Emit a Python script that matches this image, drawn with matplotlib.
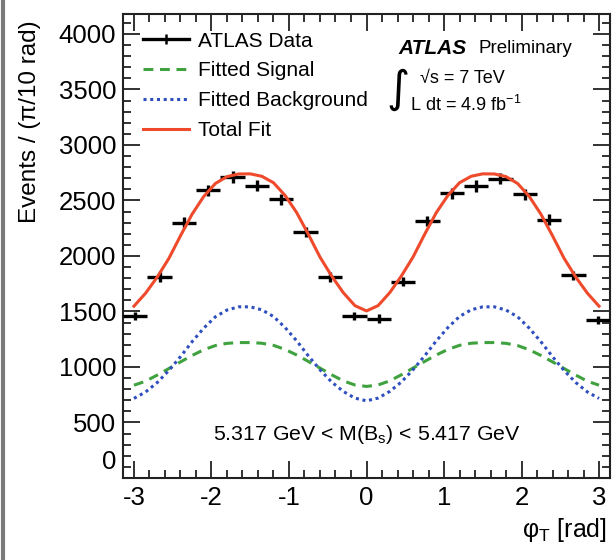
import numpy as np
import matplotlib
matplotlib.use("Agg")
import matplotlib.pyplot as plt
from matplotlib.lines import Line2D
from matplotlib.ticker import MultipleLocator

plt.rcParams['font.family'] = ['Liberation Sans', 'DejaVu Sans']
plt.rcParams['mathtext.fontset'] = 'custom'
plt.rcParams['mathtext.rm'] = 'Liberation Sans'
plt.rcParams['mathtext.it'] = 'Liberation Sans:italic'
plt.rcParams['mathtext.bf'] = 'Liberation Sans:bold'
plt.rcParams['axes.unicode_minus'] = False

# ATLAS data: 20 bins of pi/10 in phi_T
bin_width = np.pi / 10
bin_centers = -np.pi + bin_width * (np.arange(20) + 0.5)
counts = [1460, 1810, 2300, 2593, 2713, 2635, 2509, 2215, 1810, 1460,
          1436, 1769, 2314, 2563, 2629, 2698, 2554, 2326, 1826, 1421]

# fit curves on a grid from -3 to 3 (step 0.15)
fit_x = np.linspace(-3.0, 3.0, 41)
total_fit = [1548, 1665, 1810, 1978, 2182, 2377, 2536, 2653, 2715, 2739,
             2740, 2718, 2660, 2545, 2390, 2195, 1990, 1820, 1670, 1553,
             1505,
             1553, 1670, 1820, 1990, 2195, 2390, 2545, 2660, 2718, 2740,
             2739, 2715, 2653, 2536, 2377, 2182, 1978, 1810, 1665, 1548]
signal_fit = [836, 872, 927, 986, 1046, 1104, 1155, 1193, 1213, 1220,
              1220, 1214, 1195, 1158, 1108, 1050, 990, 930, 875, 838,
              825,
              838, 875, 930, 990, 1050, 1108, 1158, 1195, 1214, 1220,
              1220, 1213, 1193, 1155, 1104, 1046, 986, 927, 872, 836]
background_fit = [717, 775, 860, 968, 1093, 1228, 1350, 1452, 1513, 1542,
                  1542, 1515, 1455, 1355, 1235, 1100, 975, 865, 780, 720,
                  695,
                  720, 780, 865, 975, 1100, 1235, 1355, 1455, 1515, 1542,
                  1542, 1513, 1452, 1350, 1228, 1093, 968, 860, 775, 717]

fig = plt.figure(figsize=(6.14, 5.60), dpi=100)
ax = fig.add_axes([123 / 614, 82 / 560, 487 / 614, 464 / 560])

red = '#ee4a2b'
green = '#3fa23f'
blue = '#2f4fbf'

ax.errorbar(bin_centers, counts, xerr=bin_width / 2, yerr=np.sqrt(counts),
            fmt='none', ecolor='black', elinewidth=2.4, capsize=0, zorder=3)
l_sig, = ax.plot(fit_x, signal_fit, color=green, lw=2.2, ls=(0, (3.2, 2.2)))
l_bkg, = ax.plot(fit_x, background_fit, color=blue, lw=2.2, ls=(0, (1, 1.2)))
l_tot, = ax.plot(fit_x, total_fit, color=red, lw=2.2, zorder=4)

ax.set_xlim(-np.pi, np.pi)
ax.set_ylim(0, 4180)
ax.xaxis.set_major_locator(MultipleLocator(1))
ax.xaxis.set_minor_locator(MultipleLocator(0.2))
ax.yaxis.set_minor_locator(MultipleLocator(100))
ax.set_yticks([500, 1000, 1500, 2000, 2500, 3000, 3500, 4000])
ax.tick_params(which='both', direction='in', top=True, right=True,
               width=1.3, labelsize=18.5, color='#222222')
ax.tick_params(which='major', length=12)
ax.tick_params(which='minor', length=6)
ax.tick_params(axis='x', pad=6)
ax.tick_params(axis='y', pad=5)
for sp in ax.spines.values():
    sp.set_linewidth(1.5)
    sp.set_color('#222222')

# ROOT lifts the "0" label on the y axis
ax.annotate('0', xy=(0, 0), xycoords='axes fraction', xytext=(-5, 11.5),
            textcoords='offset points', ha='right', va='center',
            fontsize=18.5)

data_handle = Line2D([], [], color='black', lw=2.4, marker='|',
                     markersize=7, markeredgewidth=1.8)
ax.legend([data_handle, l_sig, l_bkg, l_tot],
          ['ATLAS Data', 'Fitted Signal', 'Fitted Background', 'Total Fit'],
          loc='upper left', bbox_to_anchor=(0.042, 0.962), frameon=False,
          fontsize=15, handlelength=2.2, handletextpad=0.4,
          labelspacing=0.52, borderaxespad=0, borderpad=0)

ax.text(0.565, 0.925, 'ATLAS', transform=ax.transAxes, fontsize=15,
        fontweight='bold', fontstyle='italic', va='center')
ax.text(0.73, 0.925, 'Preliminary', transform=ax.transAxes, fontsize=13.5,
        va='center')
ax.text(0.61, 0.862, '\u221as = 7 TeV', transform=ax.transAxes,
        fontsize=13, va='center')
ax.text(0.54, 0.838, '\u222b', transform=ax.transAxes, fontsize=32,
        va='center', family=['DejaVu Sans'])
ax.text(0.59, 0.805, r'L dt = 4.9 fb$^{\mathregular{-1}}$',
        transform=ax.transAxes, fontsize=13, va='center')

ax.text(0.5, 0.093, r'5.317 GeV < M(B$_{\mathregular{s}}$) < 5.417 GeV',
        transform=ax.transAxes, fontsize=15.3, ha='center', va='center')

fig.text(30 / 614, 1 - 122 / 560, 'Events / (\u03c0/10 rad)', rotation=90,
         ha='center', va='center', fontsize=17.5)
fig.text(607 / 614, 1 - 530 / 560, '\u03c6$_{\\mathregular{T}}$ [rad]',
         ha='right', va='center', fontsize=18)

fig.add_artist(Line2D([3 / 614, 3 / 614], [0, 1], transform=fig.transFigure,
                      color='#7a7a7a', lw=3))

fig.savefig('out.png', dpi=100)
